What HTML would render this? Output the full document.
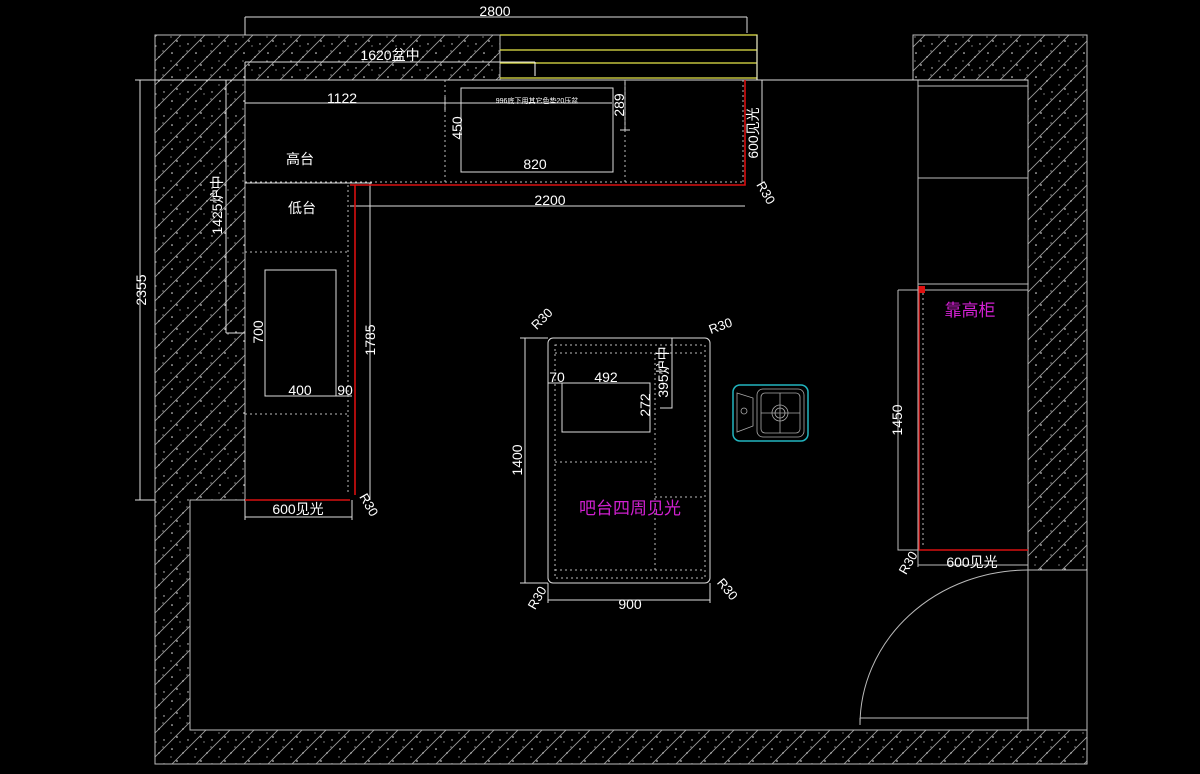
<!DOCTYPE html>
<html><head><meta charset="utf-8"><style>
html,body{margin:0;padding:0;background:#000;width:1200px;height:774px;overflow:hidden}
svg text{font-family:"Liberation Sans","Noto Sans CJK SC",sans-serif;fill:#fff}
</style></head><body>
<svg width="1200" height="774" viewBox="0 0 1200 774" xmlns="http://www.w3.org/2000/svg">
<defs>
<pattern id="h" width="24" height="24" patternUnits="userSpaceOnUse">
<rect width="24" height="24" fill="#000"/>
<path d="M0 24L24 0M-6 6L6 -6M18 30L30 18" stroke="#9a9a9a" stroke-width="0.9"/>
<circle cx="4" cy="5" r="0.8" fill="#eee"/><circle cx="15" cy="9" r="0.7" fill="#ddd"/>
<circle cx="9" cy="17" r="0.8" fill="#eee"/><circle cx="20" cy="20" r="0.7" fill="#ddd"/>
<circle cx="19" cy="3" r="0.6" fill="#ccc"/><circle cx="3" cy="13" r="0.6" fill="#ccc"/>
<circle cx="12" cy="22" r="0.6" fill="#ccc"/>
</pattern>
</defs>
<rect width="1200" height="774" fill="#000"/>
<path d="M155 35H500V80H245V500H190V730H1087V764H155Z" fill="url(#h)" stroke="#bbb" stroke-width="1"/>
<path d="M913 35H1087V570H1028V80H913Z" fill="url(#h)" stroke="#bbb" stroke-width="1"/>
<path d="M1087 570V730" stroke="#bbb" stroke-width="1"/>
<g stroke="#e8e84a" stroke-width="1.3" fill="none">
<path d="M500 35H757V80M500 50H757M500 63H757M500 78H757"/>
</g>
<path d="M535 62V76" stroke="#fff"/>
<g stroke="#ddd" stroke-width="1" fill="none">
<path d="M135 80H1028M757 35V80"/>
<path d="M245 17H747M245 17V35M747 17V33"/>
<path d="M245 62H535M245 62V80"/>
<path d="M245 103H612M445 97V110"/>
<path d="M140 80V500M135 80H155M135 500H155"/>
<path d="M226 80V333M226 80H245M226 333H245"/>
<rect x="461" y="88" width="152" height="84"/>
<path d="M625 80V130M620 130H630"/>
<path d="M762 80V183"/>
<path d="M245 183H350M350 206H745M370 183V500M350 183H372"/>
<rect x="265" y="270" width="71" height="126"/>
<path d="M265 396H352"/>
<path d="M245 517H352M245 500V520M352 500V520"/>
</g>
<g stroke="#bbb" stroke-width="1" stroke-dasharray="2 3" fill="none">
<path d="M245 182H745M445 80V182M625 80V182M743 80V182M348 185V495M245 252H348M245 414H348"/>
</g>
<g stroke="#d81010" stroke-width="1.6" fill="none">
<path d="M350 185H745V80M355 185V495M245 500H350"/>
<path d="M919 290V550H1028"/>
</g>
<rect x="918" y="286" width="7" height="7" fill="#e01010"/>
<g stroke="#bbb" stroke-width="1" fill="none">
<path d="M918 80V550M918 86H1028M918 178H1028M918 284H1028M925 290H1028"/>
<path d="M898 290H918M898 290V550H918M918 565H1028M918 550V567"/>
<path d="M1028 570H1087M1028 570V730M860 718H1028"/>
<path d="M860 725A168 155 0 0 1 1028 570"/>
<path d="M860 718V725"/>
</g>
<path d="M923 293V548" stroke="#bbb" stroke-dasharray="2 3"/>
<g stroke="#ddd" stroke-width="1" fill="none">
<rect x="548" y="338" width="162" height="245" rx="5"/>
<path d="M525 338V583M520 338H548M520 583H548"/>
<path d="M548 600H710M548 583V603M710 583V603"/>
<rect x="562" y="383" width="88" height="49"/>
<path d="M548 383H562M660 338H672V408H660"/>
</g>
<g stroke="#bbb" stroke-dasharray="2 3" fill="none">
<rect x="555" y="345" width="150" height="233"/>
<path d="M555 353H705M555 570H705M655 353V570M555 462H655M655 497H705"/>
</g>
<rect x="733" y="385" width="75" height="56" rx="7" fill="none" stroke="#22b6c0" stroke-width="1.5"/>
<g stroke="#aaa" fill="none" stroke-width="0.8">
<path d="M737 393L753 398V426L737 432Z"/>
<circle cx="744" cy="411" r="3"/>
<rect x="757" y="389" width="47" height="48" rx="6"/>
<rect x="761" y="393" width="39" height="40" rx="4"/>
<path d="M780 393V433M761 413H800"/>
<circle cx="780" cy="413" r="8"/><circle cx="780" cy="413" r="5"/>
</g>
<text x="495" y="16" font-size="14" text-anchor="middle">2800</text>
<text x="390" y="60" font-size="14" text-anchor="middle">1620盆中</text>
<text x="342" y="103" font-size="14" text-anchor="middle">1122</text>
<text x="537" y="103" font-size="7" text-anchor="middle">996底下用其它色垫20压盆</text>
<text x="535" y="169" font-size="14" text-anchor="middle">820</text>
<text x="300" y="164" font-size="14" text-anchor="middle">高台</text>
<text x="302" y="213" font-size="14" text-anchor="middle">低台</text>
<text x="550" y="205" font-size="14" text-anchor="middle">2200</text>
<text transform="translate(462,128) rotate(-90)" font-size="14" text-anchor="middle">450</text>
<text transform="translate(624,105) rotate(-90)" font-size="14" text-anchor="middle">289</text>
<text transform="translate(758,133) rotate(-90)" font-size="14" text-anchor="middle">600见光</text>
<text transform="translate(762,195) rotate(60)" font-size="13" text-anchor="middle">R30</text>
<text transform="translate(222,205) rotate(-90)" font-size="14" text-anchor="middle">1425炉中</text>
<text transform="translate(146,290) rotate(-90)" font-size="14" text-anchor="middle">2355</text>
<text transform="translate(263,332) rotate(-90)" font-size="14" text-anchor="middle">700</text>
<text transform="translate(375,340) rotate(-90)" font-size="14" text-anchor="middle">1785</text>
<text x="300" y="395" font-size="14" text-anchor="middle">400</text>
<text x="345" y="395" font-size="14" text-anchor="middle">90</text>
<text x="298" y="514" font-size="14" text-anchor="middle">600见光</text>
<text transform="translate(365,507) rotate(60)" font-size="13" text-anchor="middle">R30</text>
<text transform="translate(545,322) rotate(-45)" font-size="13" text-anchor="middle">R30</text>
<text transform="translate(722,330) rotate(-20)" font-size="13" text-anchor="middle">R30</text>
<text transform="translate(541,600) rotate(-60)" font-size="13" text-anchor="middle">R30</text>
<text transform="translate(724,592) rotate(50)" font-size="13" text-anchor="middle">R30</text>
<text transform="translate(522,460) rotate(-90)" font-size="14" text-anchor="middle">1400</text>
<text x="630" y="609" font-size="14" text-anchor="middle">900</text>
<text x="557" y="382" font-size="14" text-anchor="middle">70</text>
<text x="606" y="382" font-size="14" text-anchor="middle">492</text>
<text transform="translate(650,405) rotate(-90)" font-size="14" text-anchor="middle">272</text>
<text transform="translate(668,372) rotate(-90)" font-size="14" text-anchor="middle">395炉中</text>
<text x="630" y="514" font-size="17" text-anchor="middle" style="fill:#d020d0">吧台四周见光</text>
<text x="970" y="316" font-size="17" text-anchor="middle" style="fill:#d020d0">靠高柜</text>
<text transform="translate(902,420) rotate(-90)" font-size="14" text-anchor="middle">1450</text>
<text x="972" y="567" font-size="14" text-anchor="middle">600见光</text>
<text transform="translate(912,565) rotate(-60)" font-size="13" text-anchor="middle">R30</text>
</svg>
</body></html>
